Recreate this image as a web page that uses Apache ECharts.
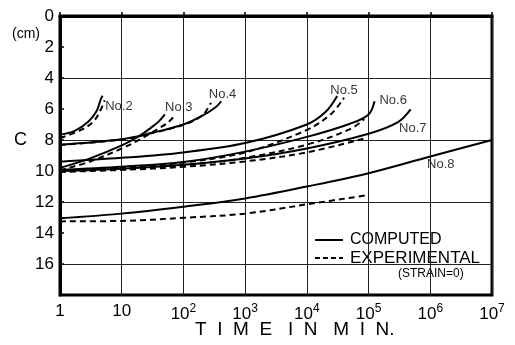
<!DOCTYPE html>
<html>
<head>
<meta charset="utf-8">
<script src="https://cdn.jsdelivr.net/npm/echarts@6/dist/echarts.min.js"></script>
<style>
html,body{margin:0;padding:0;background:#fff;}
#chart{width:515px;height:345px;}
</style>
</head>
<body>
<div id="chart"></div>
<script>
// ---- data (x = time in min, y = C in cm) ----
const no2Computed = [[1,7.65],[1.7,7.43],[2.9,6.8],[3.9,6.15],[4.6,5.35],[4.9,5.15]];
const no2Experimental = [[1,7.88],[2.2,7.35],[3.5,6.8],[4.5,6.1],[5.3,5.45]];
const no3Computed = [[1,9.8],[3,9.2],[10,8.35],[20,7.7],[30,7.2],[40,6.8],[50,6.35]];
const no3Experimental = [[1,9.95],[3,9.4],[10,8.55],[20,7.95],[40,7.25],[55,6.9],[68,6.55]];
const no4Computed = [[1,8.3],[10,7.95],[30,7.55],[100,7.0],[210,6.4],[340,5.85],[410,5.5]];
const no4Experimental = [[1,8.32],[10,7.97],[30,7.57],[100,7.02],[200,6.45],[240,6.05],[280,5.6]];
const no5Computed = [[1,9.4],[10,9.15],[100,8.8],[1000,8.2],[1e4,7.0],[2e4,6.2],[3.1e4,5.16]];
const no5Experimental = [[1,10.0],[10,9.8],[100,9.45],[1000,8.8],[1e4,7.35],[2.5e4,6.3],[4e4,5.27]];
const no6Computed = [[1,9.92],[10,9.72],[100,9.42],[1000,8.75],[1e4,7.8],[5e4,6.95],[1e5,6.35],[1.25e5,5.5]];
const no6Experimental = [[1,10.03],[10,9.87],[100,9.62],[1000,9.15],[1e4,8.3],[5e4,7.3],[8.5e4,6.65]];
const no7Computed = [[1,10.0],[10,9.85],[100,9.6],[1000,9.2],[1e4,8.55],[1e5,7.6],[3e5,6.85],[4.8e5,6.03]];
const no7Experimental = [[1,10.06],[10,9.93],[100,9.73],[1000,9.38],[1e4,8.8],[8.5e4,7.9]];
const no8Computed = [[1,13.05],[10,12.75],[100,12.3],[1000,11.77],[1e4,11.0],[1e5,10.14],[1e6,9.06],[1e7,8.0]];
const no8Experimental = [[1,13.25],[10,13.22],[100,13.02],[1000,12.75],[1e4,12.15],[1e5,11.55]];

const curveNames = ['No.2','No.3','No.4','No.5','No.6','No.7','No.8'];
const computedSets = [no2Computed,no3Computed,no4Computed,no5Computed,no6Computed,no7Computed,no8Computed];
const experimentalSets = [no2Experimental,no3Experimental,no4Experimental,no5Experimental,no6Experimental,no7Experimental,no8Experimental];
// label anchor points (data coordinates)
const labelX = [9, 84, 430, 4.0e4, 2.5e5, 5.2e5, 1.48e6];
const labelY = [5.81, 5.88, 5.03, 4.77, 5.42, 7.24, 9.58];

const yTicks = [0,2,4,6,8,10,12,14,16];

// ---- chart ----
const chart = echarts.init(document.getElementById('chart'), null, {renderer:'canvas'});
const FONT = '"Liberation Sans", Arial, sans-serif';

const series = [];
curveNames.forEach((n,i)=>{
  series.push({name:n+' computed', type:'line', data:computedSets[i], smooth:0.35,
    showSymbol:false, symbol:'none', lineStyle:{color:'#000', width:2, type:'solid'}, z:5, silent:true});
  series.push({name:n+' experimental', type:'line', data:experimentalSets[i], smooth:0.35,
    showSymbol:false, symbol:'none', lineStyle:{color:'#000', width:2, type:[6,4]}, z:5, silent:true});
});
series.push({
  type:'scatter', symbolSize:0, silent:true, z:6,
  data: curveNames.map((n,i)=>[labelX[i], labelY[i], n]),
  label:{show:true, position:'inside', formatter:p=>p.data[2], color:'#000',
    fontFamily:FONT, fontSize:13}
});

const option = {
  backgroundColor:'#fff',
  animation:false,
  grid:{left:60, right:23, top:16, bottom:50, show:true, borderColor:'#000', borderWidth:3, backgroundColor:'transparent'},
  xAxis:{
    type:'log', logBase:10, min:1, max:1e7,
    axisLine:{show:true, lineStyle:{color:'#000', width:3}},
    axisTick:{show:true, inside:true, length:4, lineStyle:{color:'#000', width:1.5}},
    minorTick:{show:false},
    splitLine:{show:true, lineStyle:{color:'#222', width:1}},
    axisLabel:{
      margin:8, color:'#000', fontFamily:FONT, fontSize:17,
      formatter:v=>{
        const e = Math.round(Math.log10(v));
        if(e===0) return '1';
        if(e===1) return '10';
        return '10{s|'+e+'}';
      },
      rich:{s:{fontSize:12, fontFamily:FONT, color:'#000', verticalAlign:'top', padding:[0,0,10,0]}}
    }
  },
  yAxis:{
    type:'value', inverse:true, min:0, max:18, interval:2,
    axisLine:{show:true, lineStyle:{color:'#000', width:3}},
    axisTick:{show:true, inside:true, length:4, lineStyle:{color:'#000', width:1.5}},
    splitLine:{show:true, lineStyle:{color:['#222','rgba(0,0,0,0)'], width:1}},
    axisLabel:{margin:6, color:'#000', fontFamily:FONT, fontSize:17,
      formatter:v=> yTicks.indexOf(v)>=0 ? String(v) : ''}
  },
  series: series,
  graphic:[
    {type:'text', left:12, top:27, style:{text:'(cm)', font:'14px '+FONT, fill:'#000'}},
    {type:'text', left:14, top:131, style:{text:'C', font:'18px '+FONT, fill:'#000'}},
    {type:'text', left:195, top:320, style:{text:'T  I  M  E   I  N   M  I  N.', font:'19px '+FONT, fill:'#000'}},
    {type:'line', shape:{x1:315,y1:240,x2:343,y2:240}, style:{stroke:'#000', lineWidth:2}},
    {type:'line', shape:{x1:315,y1:258,x2:343,y2:258}, style:{stroke:'#000', lineWidth:2, lineDash:[5,3]}},
    {type:'text', left:350, top:232, style:{text:'COMPUTED', font:'16px '+FONT, fill:'#000'}},
    {type:'text', left:350, top:250, style:{text:'EXPERIMENTAL', font:'17px '+FONT, fill:'#000'}},
    {type:'text', left:398, top:268, style:{text:'(STRAIN=0)', font:'12px '+FONT, fill:'#000'}}
  ]
};
chart.setOption(option);
</script>
</body>
</html>
